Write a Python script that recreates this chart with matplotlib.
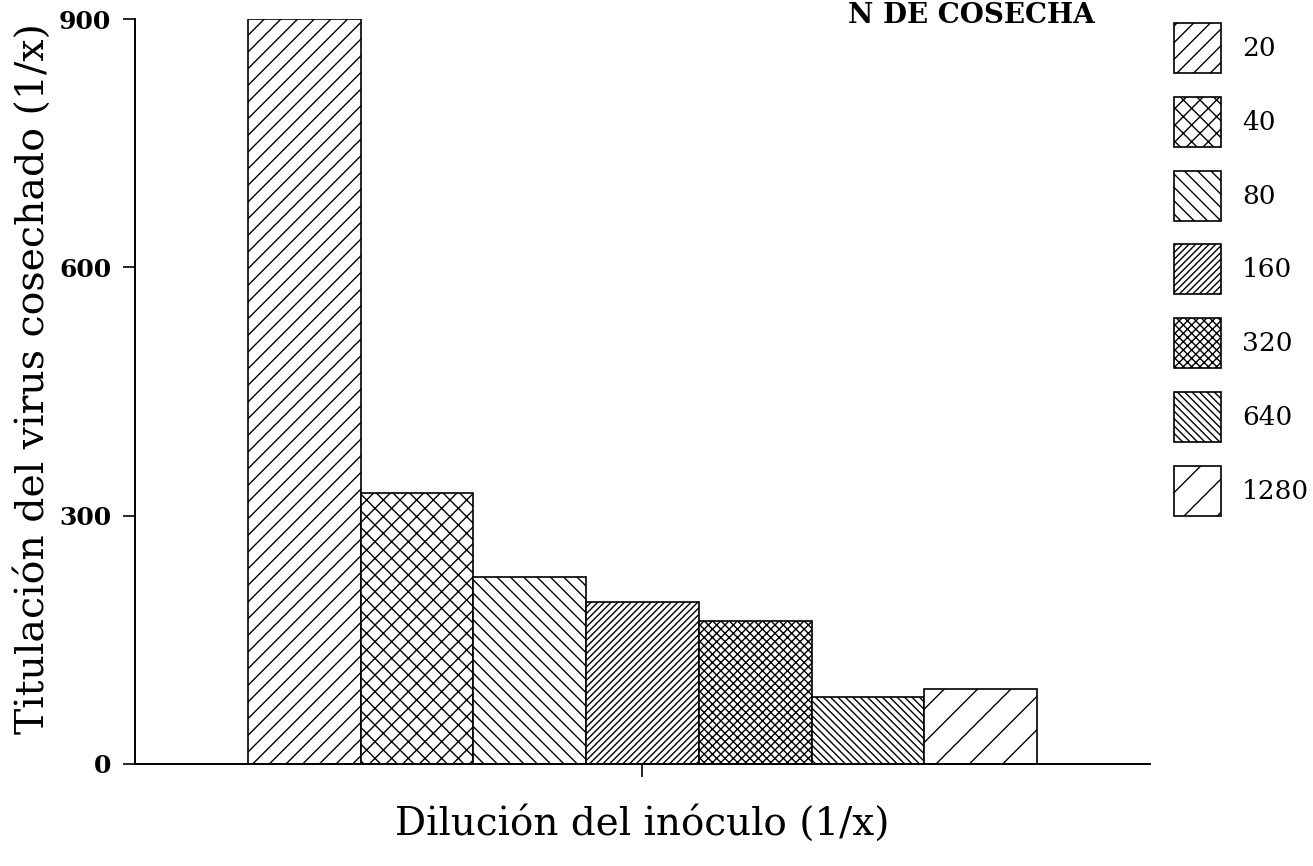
import matplotlib
matplotlib.use("Agg")
import matplotlib.pyplot as plt

# Data
dilutions = ["20", "40", "80", "160", "320", "640", "1280"]
titers = [900, 327, 226, 196, 173, 81, 91]
hatches = ["////", "xxxx", "\\" * 5, "/" * 10, "x" * 8, "\\" * 9, "//"]

yticks = [0, 300, 600, 900]
xlabel = "Dilución del inóculo (1/x)"
ylabel = "Titulación del virus cosechado (1/x)"
title_fragment = "N DE COSECHA"

plt.rcParams["font.family"] = ["DejaVu Serif"]
plt.rcParams["hatch.linewidth"] = 0.5
plt.rcParams["hatch.color"] = "black"

fig = plt.figure(figsize=(1313 / 200, 866 / 200), dpi=200)
ax = fig.add_axes([0.1028, 0.1178, 0.773, 0.860])

xs = list(range(len(titers)))
for x, v, h, lab in zip(xs, titers, hatches, dilutions):
    ax.bar(x, v, width=1.0, color="white", edgecolor="black",
           linewidth=0.6, hatch=h, label=lab)

ax.set_xlim(-1.5, 7.5)
ax.set_ylim(0, 900)
ax.set_yticks(yticks)
ax.set_yticklabels([str(t) for t in yticks], fontsize=9, fontweight="bold")
ax.set_xticks([3])
ax.set_xticklabels([""])
ax.tick_params(axis="y", direction="out", length=4.5, width=0.6, pad=4)
ax.tick_params(axis="x", direction="out", length=4.5, width=0.6)

for s in ["top", "right"]:
    ax.spines[s].set_visible(False)
for s in ["left", "bottom"]:
    ax.spines[s].set_linewidth(0.7)

ax.set_ylabel(ylabel, fontsize=14.2, labelpad=1)
ax.yaxis.set_label_coords(-0.082, 0.517)
ax.set_xlabel(xlabel, fontsize=14, labelpad=7)

leg = ax.legend(loc="upper left", bbox_to_anchor=(1174 / 1313, 1 - 23 / 866),
                bbox_transform=fig.transFigure, frameon=False,
                fontsize=9.5, handlelength=1.78, handleheight=2.54,
                labelspacing=0.9, handletextpad=0.8, borderpad=0,
                borderaxespad=0)
for p in leg.get_patches():
    p.set_linewidth(0.6)

fig.text(1095 / 1313, 0.998, title_fragment, ha="right", va="top",
         fontsize=10, fontweight="bold")

fig.savefig("out.png", dpi=200)
